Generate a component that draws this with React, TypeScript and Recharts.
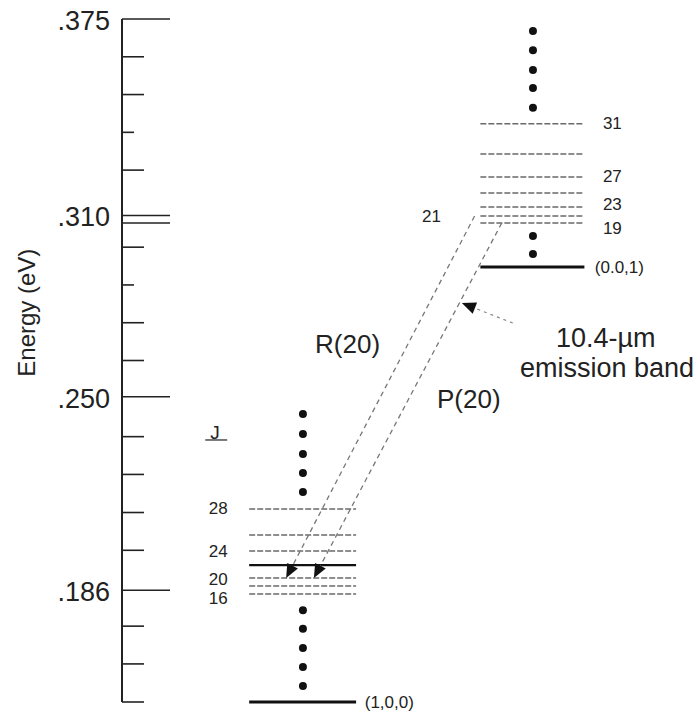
import { ScatterChart, Scatter, XAxis, YAxis, ReferenceLine } from "recharts";

const FONT = '"Liberation Sans", Arial, Helvetica, sans-serif';
const INK = "#222";

// energy axis (eV)
const axisTicks = [
  0.375, 0.3625, 0.35, 0.3375, 0.325, 0.31, 0.3075, 0.2995, 0.287, 0.2745,
  0.262, 0.25, 0.2368, 0.2243, 0.2117, 0.1992, 0.186, 0.1741, 0.1616, 0.149,
];
const axisLabelValues = [0.375, 0.31, 0.25, 0.186];
const axisLabelTexts = [".375", ".310", ".250", ".186"];
const longTicks = [0.375, 0.31, 0.3075, 0.25, 0.186];
const shortTicks = [0.3375, 0.287];

// (1,0,0) rotational levels
const lowerJ = [28, 26, 24, 22, 20, 18, 16];
const lowerEnergy = [0.2129, 0.2043, 0.199, 0.1943, 0.19, 0.1874, 0.1847];
const lowerLabelled = [28, 24, 20, 16];
const lowerLabelAt = [0.2129, 0.1988, 0.1894, 0.1834];
const lowerBase = 0.149;
const lowerDotsAbove = [0.2443, 0.2377, 0.2311, 0.2248, 0.2185];
const lowerDotsBelow = [0.1794, 0.1732, 0.1669, 0.1606, 0.1543];

// (0,0,1) rotational levels
const upperJ = [31, 29, 27, 25, 23, 21, 19];
const upperEnergy = [0.3403, 0.3303, 0.3227, 0.3174, 0.3128, 0.3098, 0.3075];
const upperLabelled = [31, 27, 23, 19];
const upperLabelAt = [0.3403, 0.323, 0.3136, 0.3058];
const upperBase = 0.2929;
const upperDotsAbove = [0.371, 0.3647, 0.3581, 0.3522, 0.3456];
const upperDotsBelow = [0.3032, 0.2972];

// laser transitions: upper J -> lower J
const transitionNames = ["R(20)", "P(20)"];
const transitionFrom = [21, 19];
const transitionTo = [20, 20];

// horizontal layout of the diagram (arbitrary units 0..10)
const LOWER_X = [2.2, 4.05];
const UPPER_X = [6.2, 8.0];
const LOWER_DOT_X = 3.13;
const UPPER_DOT_X = 7.11;
const FROM_X = [6.1, 6.57];
const TO_X = [2.84, 3.32];

const energyOf = (js: number[], es: number[], j: number) => es[js.indexOf(j)];

const dotData = [
  ...lowerDotsAbove.map((y) => ({ x: LOWER_DOT_X, y })),
  ...lowerDotsBelow.map((y) => ({ x: LOWER_DOT_X, y })),
  ...upperDotsAbove.map((y) => ({ x: UPPER_DOT_X, y })),
  ...upperDotsBelow.map((y) => ({ x: UPPER_DOT_X, y })),
];

type Note = { x: number; y: number; text: string; anchor: string; size: number };

const notes: Note[] = [
  ...lowerLabelled.map((j, i) => ({ x: 1.83, y: lowerLabelAt[i], text: String(j), anchor: "end", size: 17 })),
  ...upperLabelled.map((j, i) => ({ x: 8.32, y: upperLabelAt[i], text: String(j), anchor: "start", size: 17 })),
  { x: 5.19, y: energyOf(upperJ, upperEnergy, 21), text: "21", anchor: "start", size: 17 },
  { x: 1.61, y: 0.2383, text: "J", anchor: "middle", size: 19 },
  { x: 8.18, y: upperBase, text: "(0.0,1)", anchor: "start", size: 17 },
  { x: 4.2, y: lowerBase, text: "(1,0,0)", anchor: "start", size: 17 },
  { x: 3.34, y: 0.2675, text: transitionNames[0], anchor: "start", size: 26 },
  { x: 5.45, y: 0.2493, text: transitionNames[1], anchor: "start", size: 26 },
  { x: 8.37, y: 0.2694, text: "10.4-µm", anchor: "middle", size: 27 },
  { x: 8.39, y: 0.2595, text: "emission band", anchor: "middle", size: 27 },
];

function EnergyTick(props: any) {
  const { x, y, payload } = props;
  const v = payload.value;
  const i = axisLabelValues.indexOf(v);
  const len = longTicks.includes(v) ? 48 : shortTicks.includes(v) ? 12 : 22;
  return (
    <g>
      <line x1={x} y1={y} x2={x + len} y2={y} stroke={INK} strokeWidth={1.6} />
      {i >= 0 && (
        <text x={x - 12} y={y + 2} textAnchor="end" dominantBaseline="central" fontSize={27} fontFamily={FONT} fill={INK}>
          {axisLabelTexts[i]}
        </text>
      )}
    </g>
  );
}

function ArrowLine(props: any) {
  const { x1, y1, x2, y2, stroke, strokeWidth, strokeDasharray } = props;
  const a = Math.atan2(y2 - y1, x2 - x1);
  const L = 14;
  const W = 6;
  const bx = x2 - L * Math.cos(a);
  const by = y2 - L * Math.sin(a);
  const px = -Math.sin(a) * W;
  const py = Math.cos(a) * W;
  return (
    <g>
      <line x1={x1} y1={y1} x2={bx} y2={by} stroke={stroke} strokeWidth={strokeWidth} strokeDasharray={strokeDasharray} />
      <polygon points={`${x2},${y2} ${bx + px},${by + py} ${bx - px},${by - py}`} fill="#111" />
    </g>
  );
}

function NoteShape(props: any) {
  const { cx, cy, payload } = props;
  return (
    <text x={cx} y={cy} textAnchor={payload.anchor} dominantBaseline="central" fontSize={payload.size} fontFamily={FONT} fill={INK}>
      {payload.text}
    </text>
  );
}

function level(key: string, xs: number[], e: number, strong: boolean) {
  return (
    <ReferenceLine
      key={key}
      segment={[{ x: xs[0], y: e }, { x: xs[1], y: e }]}
      stroke={strong ? "#111" : "#6a6a6a"}
      strokeWidth={strong ? 2.2 : 1.5}
      strokeDasharray={strong ? undefined : "6 2"}
      ifOverflow="visible"
    />
  );
}

export default function App() {
  return (
    <div style={{ position: "absolute", left: 0, top: 0, width: 700, height: 715, background: "#fff" }}>
      <ScatterChart width={700} height={715} margin={{ top: 19, right: 0, bottom: 13, left: 0 }}>
        <XAxis type="number" dataKey="x" domain={[0, 10]} hide />
        <YAxis
          type="number"
          dataKey="y"
          domain={[0.149, 0.375]}
          ticks={axisTicks}
          interval={0}
          width={122}
          tickSize={0}
          tickMargin={0}
          tickLine={false}
          axisLine={{ stroke: INK, strokeWidth: 2 }}
          tick={<EnergyTick />}
          label={(p: any) => {
            const vb = p.viewBox;
            return (
              <text
                transform={`translate(${vb.x + 26}, ${vb.y + vb.height * 0.43}) rotate(-90)`}
                textAnchor="middle"
                dominantBaseline="central"
                fontSize={24}
                fontFamily={FONT}
                fill={INK}
              >
                Energy (eV)
              </text>
            );
          }}
        />

        {lowerEnergy.map((e, i) => level("lo" + i, LOWER_X, e, lowerJ[i] === 22))}
        {upperEnergy.map((e, i) => level("up" + i, UPPER_X, e, false))}
        <ReferenceLine segment={[{ x: LOWER_X[0], y: lowerBase }, { x: LOWER_X[1], y: lowerBase }]} stroke="#111" strokeWidth={3} ifOverflow="visible" />
        <ReferenceLine segment={[{ x: UPPER_X[0], y: upperBase }, { x: UPPER_X[1], y: upperBase }]} stroke="#111" strokeWidth={3} ifOverflow="visible" />
        <ReferenceLine segment={[{ x: 1.44, y: 0.2357 }, { x: 1.82, y: 0.2357 }]} stroke={INK} strokeWidth={1.2} ifOverflow="visible" />

        {transitionNames.map((n, i) => (
          <ReferenceLine
            key={n}
            segment={[
              { x: FROM_X[i], y: energyOf(upperJ, upperEnergy, transitionFrom[i]) },
              { x: TO_X[i], y: energyOf(lowerJ, lowerEnergy, transitionTo[i]) },
            ]}
            stroke="#777"
            strokeWidth={1.3}
            strokeDasharray="5 4"
            ifOverflow="visible"
            shape={<ArrowLine />}
          />
        ))}
        <ReferenceLine
          segment={[{ x: 6.76, y: 0.2744 }, { x: 5.88, y: 0.281 }]}
          stroke="#888"
          strokeWidth={1.2}
          strokeDasharray="3 4"
          ifOverflow="visible"
          shape={<ArrowLine />}
        />

        <Scatter data={dotData} fill="#111" shape={(p: any) => <circle cx={p.cx} cy={p.cy} r={4} fill="#111" />} isAnimationActive={false} />
        <Scatter data={notes} shape={<NoteShape />} isAnimationActive={false} />
      </ScatterChart>
    </div>
  );
}
